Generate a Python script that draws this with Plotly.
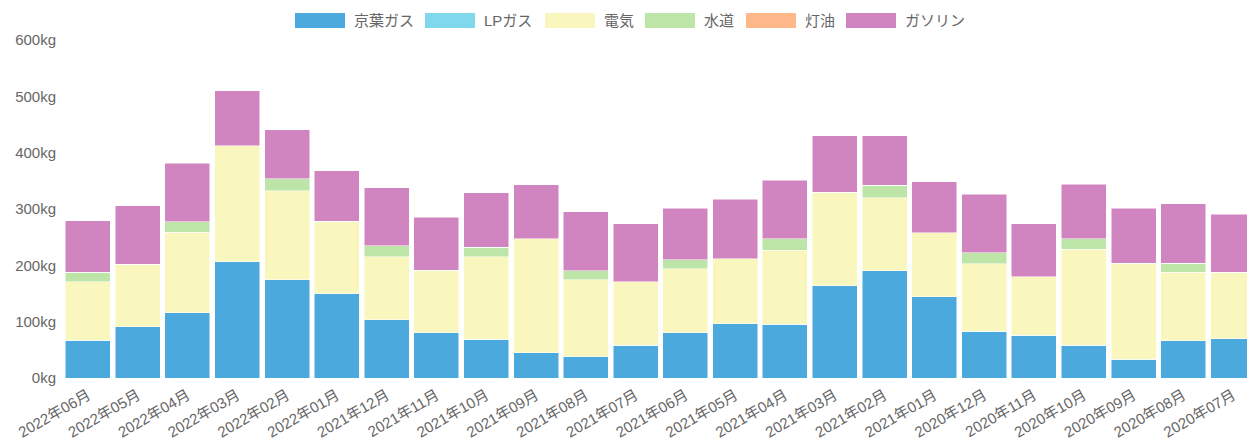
import plotly.graph_objects as go

months = ["2022年06月", "2022年05月", "2022年04月", "2022年03月", "2022年02月", "2022年01月",
          "2021年12月", "2021年11月", "2021年10月", "2021年09月", "2021年08月", "2021年07月",
          "2021年06月", "2021年05月", "2021年04月", "2021年03月", "2021年02月", "2021年01月",
          "2020年12月", "2020年11月", "2020年10月", "2020年09月", "2020年08月", "2020年07月"]

keiyo_gas = [67, 91, 116, 206, 174, 150, 103, 80, 69, 45, 38, 58,
             80, 96, 95, 164, 190, 144, 83, 76, 58, 33, 66, 70]
lp_gas = [0] * 24
electricity = [104, 111, 143, 206, 158, 128, 112, 111, 146, 202, 136, 113,
               114, 116, 132, 166, 130, 114, 120, 104, 171, 171, 122, 118]
water = [17, 0, 18, 0, 22, 0, 20, 0, 17, 0, 16, 0,
         16, 0, 20, 0, 22, 0, 19, 0, 18, 0, 16, 0]
kerosene = [0] * 24
gasoline = [91, 104, 104, 98, 87, 90, 103, 94, 97, 96, 105, 103,
            91, 105, 104, 100, 88, 90, 104, 94, 97, 97, 105, 103]

series_names = ["京葉ガス", "LPガス", "電気", "水道", "灯油", "ガソリン"]
series_values = [keiyo_gas, lp_gas, electricity, water, kerosene, gasoline]
series_colors = ["#4CA9DE", "#80D8EC", "#FAF7BE", "#BEE5A8", "#FFB88A", "#D084C0"]

font_family = "Liberation Sans, Noto Sans CJK JP, sans-serif"
text_color = "#666666"

# the page places the figure 8px from the top-left corner (body margin)
OFF = 8
W, H = 1255 - OFF, 441 - OFF
L, R, T = 63 - OFF, 0, 40 - OFF
ph = 338
B = H - T - ph
pw = W - L - R


def px_x(px):
    return (px - OFF - L) / pw


def px_y(py):
    return (T + ph - (py - OFF)) / ph


fig = go.Figure()
for name, vals, color in zip(series_names, series_values, series_colors):
    fig.add_trace(go.Bar(
        x=months, y=vals, name=name, showlegend=False,
        marker=dict(color=color, line=dict(color="white", width=0.5)),
    ))

# custom legend (wide swatches like the original)
legend_x = [295, 425, 545, 645, 746, 846]
shapes, annotations = [], []
for lx, name, color in zip(legend_x, series_names, series_colors):
    shapes.append(dict(type="rect", xref="paper", yref="paper",
                       x0=px_x(lx), x1=px_x(lx + 50), y0=px_y(28), y1=px_y(13),
                       fillcolor=color, line=dict(width=0)))
    annotations.append(dict(xref="paper", yref="paper", x=px_x(lx + 57), y=px_y(20.5),
                            xanchor="left", yanchor="middle", showarrow=False,
                            text=name, font=dict(size=15, color=text_color, family=font_family)))

fig.update_layout(
    width=W, height=H,
    barmode="stack",
    bargap=0.096,
    plot_bgcolor="white",
    paper_bgcolor="white",
    margin=dict(l=L, r=R, t=T, b=B, autoexpand=False),
    font=dict(family=font_family, color=text_color, size=15),
    showlegend=False,
    shapes=shapes,
    annotations=annotations,
    xaxis=dict(
        range=[-0.5, 23.44],
        tickangle=-30,
        showgrid=False, zeroline=False, showline=False,
        ticks="", automargin=False,
        ticklabelstandoff=5,
        tickfont=dict(size=15, color=text_color),
    ),
    yaxis=dict(
        range=[0, 600],
        dtick=100,
        ticksuffix="kg",
        showgrid=False, zeroline=False, showline=False,
        ticks="", automargin=False,
        ticklabelstandoff=6,
        tickfont=dict(size=15, color=text_color),
    ),
)

fig.write_html("out.html")
